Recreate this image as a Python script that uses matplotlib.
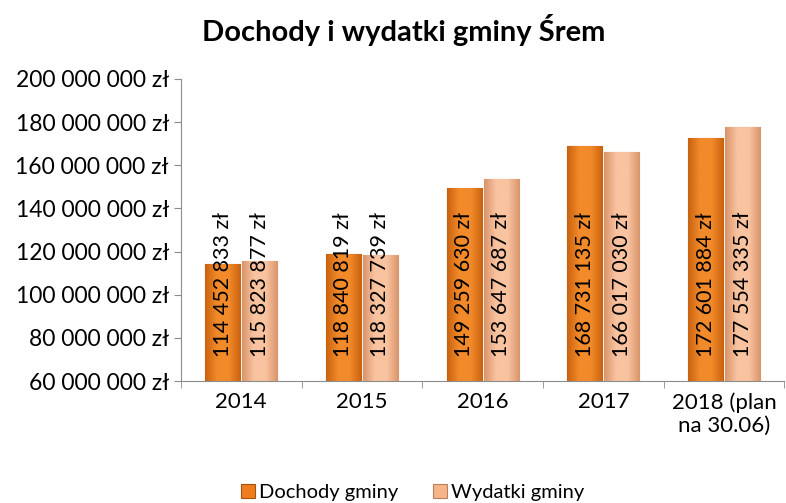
import numpy as np
import matplotlib.pyplot as plt
from matplotlib.colors import LinearSegmentedColormap
from matplotlib.ticker import FuncFormatter, FixedLocator

plt.rcParams['font.family'] = ['Lato', 'DejaVu Sans']

years = ['2014', '2015', '2016', '2017', '2018 (plan\nna 30.06)']
dochody = [114452833, 118840819, 149259630, 168731135, 172601884]
wydatki = [115823877, 118327739, 153647687, 166017030, 177554335]
series_names = ['Dochody gminy', 'Wydatki gminy']


def fmt(v):
    return '{:,.0f} zł'.format(v).replace(',', ' ')


def shade(ax, bars, edge, mid):
    # bevel-like horizontal gradient inside each bar
    cmap = LinearSegmentedColormap.from_list('b', [edge, mid, mid, edge])
    grad = np.linspace(0, 1, 64).reshape(1, -1)
    ymin = ax.get_ylim()[0]
    for r in bars:
        x0 = r.get_x()
        im = ax.imshow(grad, cmap=cmap, aspect='auto', zorder=r.get_zorder() + 0.1,
                       extent=(x0, x0 + r.get_width(), ymin, r.get_height()))
        im.set_clip_path(r)


fig = plt.figure(figsize=(7.86, 5.03), dpi=100)
ax = fig.add_axes([0.230, 0.2425, 0.768, 0.6005])

x = np.arange(len(years))
w = 0.29
gap = 0.008
b1 = ax.bar(x - w / 2 - gap, dochody, w, color='#EE7D1F',
            edgecolor='#A65210', linewidth=0.8, label=series_names[0])
b2 = ax.bar(x + w / 2 + gap, wydatki, w, color='#F5B48A',
            edgecolor='#B9805E', linewidth=0.8, label=series_names[1])

ylim = (60000000, 200000000)
xlim = (-0.5, len(years) - 0.5)
ax.set_ylim(ylim)
ax.set_xlim(xlim)
shade(ax, b1, '#C9620F', '#F28A2A')
shade(ax, b2, '#D9956A', '#F9C3A0')
ax.set_ylim(ylim)
ax.set_xlim(xlim)

for bars, vals in ((b1, dochody), (b2, wydatki)):
    for r, v in zip(bars, vals):
        ax.text(r.get_x() + r.get_width() / 2, 71000000, fmt(v), rotation=90,
                ha='center', va='bottom', fontsize=15.5, color='black', zorder=5)

ax.yaxis.set_major_formatter(FuncFormatter(lambda v, p: fmt(v)))
ax.set_yticks(np.arange(60000000, 200000001, 20000000))
ax.set_xticks(x)
ax.set_xticklabels(years, fontsize=16)
ax.xaxis.set_minor_locator(FixedLocator(np.arange(-0.5, len(years), 1)))
ax.tick_params(axis='x', which='major', length=0, pad=8)
ax.tick_params(axis='x', which='minor', length=5, color='#8c8c8c')
ax.tick_params(axis='y', labelsize=16.5, length=5, color='#8c8c8c')
for s in ['top', 'right']:
    ax.spines[s].set_visible(False)
ax.spines['left'].set_color('#8c8c8c')
ax.spines['bottom'].set_color('#8c8c8c')

fig.text(0.513, 0.94, 'Dochody i wydatki gminy Śrem', ha='center', va='center',
         fontsize=21, fontweight='bold')
fig.legend(handles=[b1, b2], loc='center', bbox_to_anchor=(0.525, 0.02),
           ncol=2, frameon=False, fontsize=14.5, handlelength=0.7,
           handleheight=0.7, handletextpad=0.2, columnspacing=1.7)

fig.savefig('out.png', dpi=100)
